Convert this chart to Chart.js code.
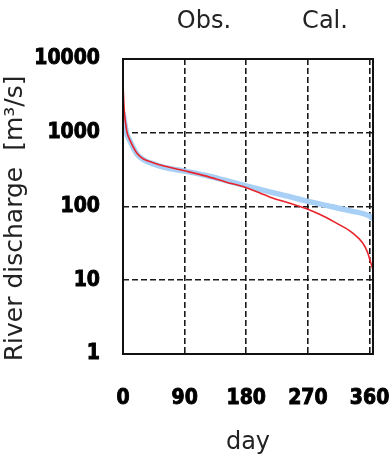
<!DOCTYPE html>
<html>
<head>
<meta charset="utf-8">
<script src="https://cdn.jsdelivr.net/npm/chart.js@4.4.1/dist/chart.umd.min.js"></script>
<style>
  html, body { margin: 0; padding: 0; background: #fff; }
  #wrap { width: 391px; height: 457px; }
</style>
</head>
<body>
<div id="wrap"><canvas id="flowChart" width="391" height="457"></canvas></div>
<script>
// flow duration curves
const obsDays = [0, 2, 5, 10, 15, 21, 30, 45, 60, 90, 120, 150, 180, 214, 240, 267, 300, 330, 360, 365];
const obsFlow = [1900, 1450, 1000, 780, 625, 505, 430, 375, 340, 302, 265, 225, 190, 158, 138, 119, 102, 88, 74, 68];

const calDays = [0, 1, 2, 4, 6, 10, 15, 21, 30, 45, 60, 90, 120, 150, 180, 214, 240, 267, 290, 311, 335, 350, 357, 362, 365];
const calFlow = [4600, 2800, 1900, 1300, 1000, 800, 640, 520, 440, 390, 355, 305, 260, 215, 180, 135, 113, 94, 76, 60, 44, 32, 24, 17, 14];

const xTicks = [0, 90, 180, 270, 360];
const yTicks = [1, 10, 100, 1000, 10000];
const seriesNames = ["Obs.", "Cal."];

const toPoints = (xs, ys) => xs.map((x, i) => ({ x: x, y: ys[i] }));

// "Obs." / "Cal." text above the plot + full frame round the plot area
const headerAndFrame = {
  id: "headerAndFrame",
  afterDraw(chart) {
    const { ctx, chartArea } = chart;
    ctx.save();
    ctx.strokeStyle = "#111";
    ctx.lineWidth = 2;
    ctx.strokeRect(chartArea.left, chartArea.top, chartArea.right - chartArea.left, chartArea.bottom - chartArea.top);
    ctx.font = "24px 'DejaVu Sans'";
    ctx.fillStyle = "#222";
    ctx.textAlign = "center";
    ctx.textBaseline = "middle";
    ctx.fillText(seriesNames[0], 204, 22);
    ctx.fillText(seriesNames[1], 325, 22);
    ctx.restore();
  },
};

const tickFont = { family: "'DejaVu Sans Condensed', 'DejaVu Sans'", size: 21, weight: "bold" };

new Chart(document.getElementById("flowChart"), {
  type: "line",
  data: {
    datasets: [
      {
        label: seriesNames[1],
        data: toPoints(calDays, calFlow),
        borderColor: "#e8232b",
        borderWidth: 1.6,
        pointRadius: 0,
        cubicInterpolationMode: "monotone",
        order: 1,
      },
      {
        label: seriesNames[0],
        data: toPoints(obsDays, obsFlow),
        borderColor: "#a8cff5",
        borderWidth: 5.5,
        pointRadius: 0,
        cubicInterpolationMode: "monotone",
        order: 2,
      },
    ],
  },
  plugins: [headerAndFrame],
  options: {
    responsive: false,
    animation: false,
    layout: { padding: { top: 59, right: 18, left: 0, bottom: 0 } },
    plugins: {
      legend: { display: false },
      tooltip: { enabled: false },
    },
    scales: {
      x: {
        type: "linear",
        min: 0,
        max: 365,
        afterBuildTicks: (axis) => {
          axis.ticks = xTicks.map((v) => ({ value: v }));
        },
        afterFit: (axis) => {
          axis.height = 103;
          axis.paddingLeft = 0;
          axis.paddingRight = 0;
        },
        grid: { color: "#1a1a1a", lineWidth: 1.6, drawTicks: false },
        border: { display: false, dash: [6, 3] },
        ticks: {
          font: tickFont,
          color: "#000",
          textStrokeColor: "#000",
          textStrokeWidth: 0.9,
          padding: 32,
          maxRotation: 0,
          autoSkip: false,
        },
        title: {
          display: true,
          text: "day",
          font: { family: "'DejaVu Sans'", size: 24 },
          color: "#222",
          padding: { top: 0, bottom: 0 },
        },
      },
      y: {
        type: "logarithmic",
        min: 1,
        max: 10000,
        afterBuildTicks: (axis) => {
          axis.ticks = yTicks.map((v) => ({ value: v }));
        },
        afterFit: (axis) => {
          axis.width = 123;
        },
        grid: { color: "#1a1a1a", lineWidth: 1.6, drawTicks: false },
        border: { display: false, dash: [6, 3] },
        ticks: {
          font: tickFont,
          color: "#000",
          textStrokeColor: "#000",
          textStrokeWidth: 0.9,
          padding: 23,
          callback: (v) => String(v),
        },
        title: {
          display: true,
          // trailing spaces nudge the title down a little, as in the source
          text: "River discharge  [m³/s]   ",
          font: { family: "'DejaVu Sans'", size: 25 },
          color: "#222",
          padding: { top: 0, bottom: 0 },
        },
      },
    },
  },
});
</script>
</body>
</html>
